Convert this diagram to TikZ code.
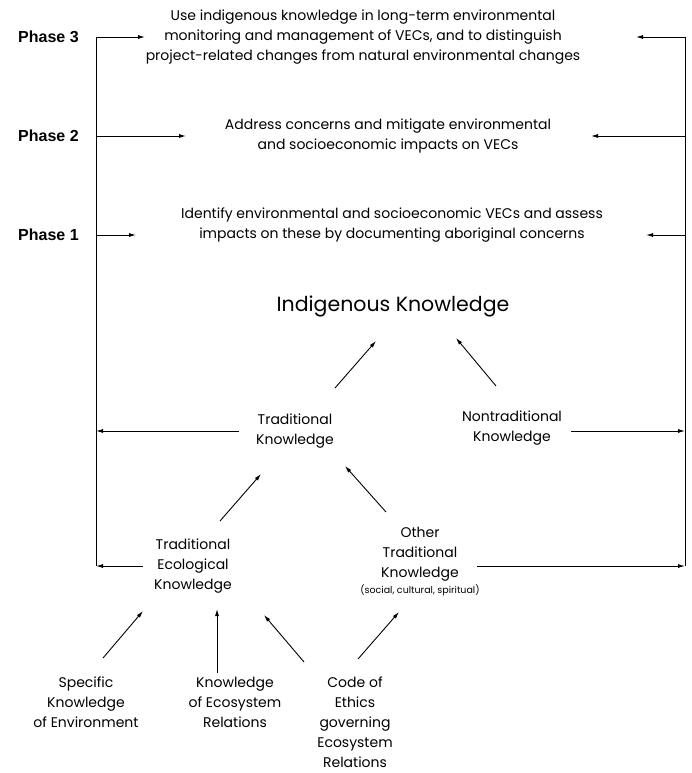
\documentclass[tikz,border=0pt]{standalone}
\usepackage{fontspec}
\setmainfont{Poppins}
\newfontfamily\phasefont{Liberation Sans}
\usetikzlibrary{arrows.meta}
\begin{document}
\begin{tikzpicture}[x=1pt,y=-1pt,
  txt/.style={align=center,inner sep=0pt,font=\fontsize{14}{20}\selectfont},
  phase/.style={inner sep=0pt,anchor=west,font=\phasefont\bfseries\fontsize{16}{18}\selectfont},
  arr/.style={-{Latex[length=7pt,width=4pt]},line width=0.9pt},
  ln/.style={line width=0.9pt}]
\useasboundingbox (0,0) rectangle (692,773);
% phase labels
\node[phase] (ph3) at (18,37) {Phase 3};
\node[phase] (ph2) at (18,136) {Phase 2};
\node[phase] (ph1) at (18,235) {Phase 1};
% phase texts
\node[txt] (t3) at (363,37) {Use indigenous knowledge in long-term environmental\\monitoring and management of VECs, and to distinguish\\project-related changes from natural environmental changes};
\node[txt] (t2) at (388,136) {Address concerns and mitigate environmental\\and socioeconomic impacts on VECs};
\node[txt] (t1) at (392,225) {Identify environmental and socioeconomic VECs and assess\\impacts on these by documenting aboriginal concerns};
% frame coordinates
\coordinate (L3) at (96,37);
\coordinate (L2) at (96,136);
\coordinate (L1) at (96,235);
\coordinate (LT) at (96,431);
\coordinate (LB) at (96,566);
\coordinate (R3) at (685,37);
\coordinate (R2) at (685,136);
\coordinate (R1) at (685,235);
\coordinate (RN) at (685,431);
\coordinate (RB) at (685,566);
\coordinate (a3) at (145,37);
\coordinate (a2) at (186,136);
\coordinate (a1) at (136,235);
\coordinate (b3) at (636,37);
\coordinate (b2) at (591,136);
\coordinate (b1) at (646,235);
\draw[ln] (L3) -- (LB);
\draw[ln] (R3) -- (RB);
\draw[arr] (L3) -- (a3);
\draw[arr] (L2) -- (a2);
\draw[arr] (L1) -- (a1);
\draw[arr] (R3) -- (b3);
\draw[arr] (R2) -- (b2);
\draw[arr] (R1) -- (b1);
% knowledge nodes
\node[inner sep=0pt,font=\fontsize{20.5}{24}\selectfont] (ik) at (393,306) {Indigenous Knowledge};
\node[txt] (tk) at (295,431) {Traditional\\Knowledge};
\node[txt] (ntk) at (512,428) {Nontraditional\\Knowledge};
\node[txt] (tek) at (193,566) {Traditional\\Ecological\\Knowledge};
\node[txt,anchor=north] (otk) at (420,527) {Other\\Traditional\\Knowledge\\[-4pt]{\fontsize{9.5}{11}\selectfont (social, cultural, spiritual)}};
\node[txt,anchor=north] (ske) at (86,677) {Specific\\Knowledge\\of Environment};
\node[txt,anchor=north] (ker) at (235,677) {Knowledge\\of Ecosystem\\Relations};
\node[txt,anchor=north] (coe) at (355,677) {Code of\\Ethics\\governing\\Ecosystem\\Relations};
% arrows between knowledge nodes
\coordinate (tkw) at (239,431);
\draw[arr] (335,388) -- (376,341);
\draw[arr] (496,386) -- (456,338);
\draw[arr] (220,521) -- (261,474);
\draw[arr] (386,512) -- (345,466);
\draw[arr] (tkw) -- (LT);
\draw[arr] (571,431) -- (RN);
\draw[arr] (143,566) -- (LB);
\draw[arr] (477,566) -- (RB);
\draw[arr] (103,658) -- (143,611);
\draw[arr] (217,673) -- (217,609);
\draw[arr] (304,662) -- (264,615);
\draw[arr] (358,659) -- (399,612);
\end{tikzpicture}
\end{document}
